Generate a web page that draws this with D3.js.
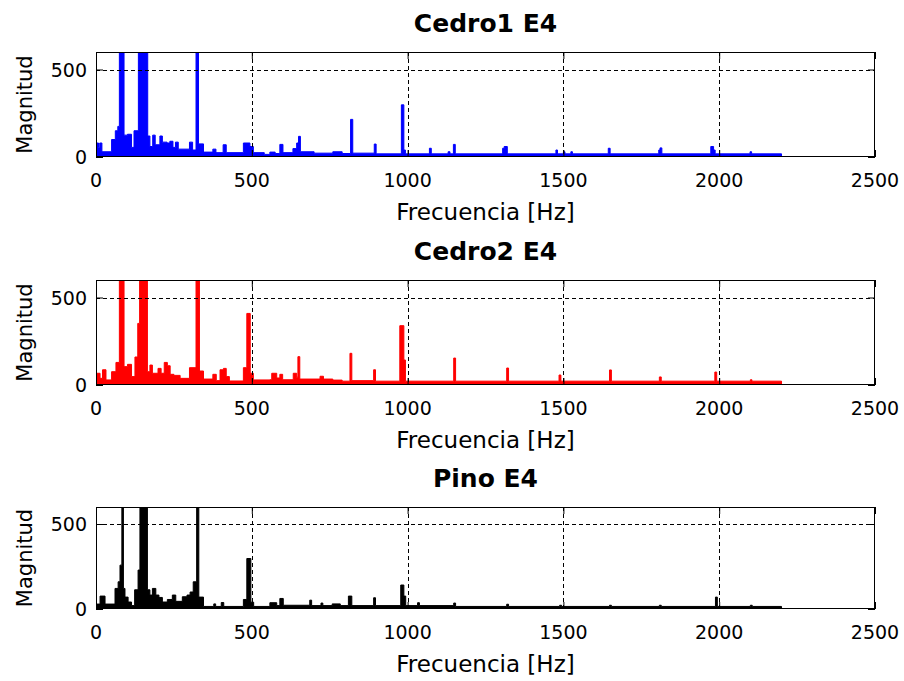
<!DOCTYPE html>
<html>
<head>
<meta charset="utf-8">
<script src="https://cdn.jsdelivr.net/npm/d3@7"></script>
<style>
	body { margin: 0; background: #fff; }
	svg { display: block; }
	text { font-family: "DejaVu Sans", sans-serif; fill: #000; }
</style>
</head>
<body>
<svg id="chart"></svg>
<script>
// data =====================================================================
var xTicks = [0, 500, 1000, 1500, 2000, 2500];
var yTicks = [0, 500];
var titles = ["Cedro1 E4", "Cedro2 E4", "Pino E4"];
var colors = ["#0000ff", "#ff0000", "#000000"];

// [frecuencia Hz, magnitud] (escalones)
var cedro1 = [
	[0,80],[8,55],[12,80],[19,30],[50,100],[62,150],[70,175],[75,1500],[90,125],[101,130],
	[114,55],[122,150],[136,1500],[166,120],[173,60],[182,125],[190,70],[205,120],[213,85],
	[228,80],[237,90],[247,55],[255,85],[264,45],[300,85],[310,40],[321,1500],[329,75],
	[345,28],[375,45],[385,25],[408,70],[418,25],[473,80],[494,60],[505,25],[540,15],
	[558,28],[575,20],[590,72],[600,25],[632,48],[644,80],[650,118],[656,30],[700,22],
	[760,30],[790,20],[817,215],[824,22],[893,74],[899,18],[980,298],[988,40],[993,18],
	[1070,50],[1076,18],[1130,30],[1136,18],[1147,72],[1153,18],[1305,50],[1310,60],
	[1320,18],[1476,40],[1481,18],[1500,30],[1505,18],[1524,30],[1529,18],[1644,50],
	[1650,18],[1806,40],[1810,52],[1816,18],[1973,60],[1982,40],[1987,18],[2099,30],
	[2104,18],[2200,0]
];

var cedro2 = [
	[0,67],[13,38],[21,87],[32,29],[50,76],[64,129],[75,1500],[90,105],[101,118],[114,48],
	[125,160],[134,352],[140,1500],[165,76],[173,114],[181,67],[199,95],[209,67],[219,129],
	[229,110],[238,61],[250,55],[270,38],[300,99],[321,1500],[332,80],[345,34],[375,61],
	[386,25],[398,87],[409,95],[418,48],[428,23],[473,99],[484,409],[495,67],[505,29],
	[558,30],[564,67],[580,40],[590,61],[599,30],[633,67],[644,45],[648,162],[654,34],
	[719,50],[730,34],[760,28],[790,22],[815,181],[821,25],[891,87],[897,22],[975,339],
	[988,143],[993,22],[1148,154],[1154,22],[1318,97],[1324,22],[1486,57],[1492,22],
	[1648,86],[1654,22],[1808,46],[1814,22],[1986,74],[1992,22],[2100,30],[2105,22],
	[2200,0]
];

var pino = [
	[0,29],[13,76],[29,29],[61,121],[71,160],[77,258],[83,1500],[88,121],[93,70],[103,41],
	[114,20],[124,113],[135,229],[141,1500],[165,113],[173,82],[181,121],[192,82],[202,68],
	[213,41],[229,56],[245,82],[256,45],[277,72],[292,82],[302,100],[312,160],[323,1500],
	[330,70],[345,15],[378,30],[384,15],[402,38],[410,15],[473,56],[484,297],[497,40],
	[506,15],[558,37],[580,20],[590,62],[601,22],[686,52],[692,20],[722,35],[728,20],
	[758,30],[784,20],[810,76],[821,20],[891,66],[897,20],[978,141],[988,76],[994,20],
	[1032,37],[1038,20],[1148,35],[1154,15],[1318,28],[1324,15],[1488,22],[1494,15],
	[1648,22],[1654,15],[1808,22],[1814,15],[1988,70],[1994,15],[2100,22],[2106,15],
	[2200,0]
];

var series = [cedro1, cedro2, pino];

// layout ===================================================================
var width = 904, height = 681;
var left = 96, right = 875;
var panels = [
	{ top: 52,  bottom: 157 },
	{ top: 280, bottom: 385 },
	{ top: 507, bottom: 609 }
];
var tickLen = 7;

var svg = d3.select("#chart")
	.attr("width", width)
	.attr("height", height);

var xScale = d3.scaleLinear()
	.domain([0, 2500])
	.range([left, right]);

panels.forEach(function(p, i) {
	drawPanel(p, i);
});

function drawPanel(p, i) {
	var yScale = d3.scaleLinear()
		.domain([0, 600])
		.range([p.bottom, p.top]);

	var g = svg.append("g");

	g.append("clipPath")
		.attr("id", "clip" + i)
		.append("rect")
		.attr("x", left)
		.attr("y", p.top)
		.attr("width", right - left)
		.attr("height", p.bottom - p.top);

	var area = d3.area()
		.x(function(d) { return xScale(d[0]) })
		.y0(yScale(0))
		.y1(function(d) { return yScale(d[1]) })
		.curve(d3.curveStepAfter);

	g.append("path")
		.datum(series[i])
		.attr("clip-path", "url(#clip" + i + ")")
		.attr("d", area)
		.attr("fill", colors[i])
		.attr("stroke", colors[i])
		.attr("stroke-width", 1);

	// grid
	g.selectAll(".vgrid")
		.data(xTicks.slice(1, -1))
		.enter().append("line")
		.attr("x1", function(d) { return Math.round(xScale(d)) + 0.5 })
		.attr("x2", function(d) { return Math.round(xScale(d)) + 0.5 })
		.attr("y1", p.top)
		.attr("y2", p.bottom)
		.attr("stroke", "#000")
		.attr("stroke-dasharray", "4,3");

	g.selectAll(".hgrid")
		.data(yTicks.slice(1))
		.enter().append("line")
		.attr("x1", left)
		.attr("x2", right)
		.attr("y1", function(d) { return Math.round(yScale(d)) + 0.5 })
		.attr("y2", function(d) { return Math.round(yScale(d)) + 0.5 })
		.attr("stroke", "#000")
		.attr("stroke-dasharray", "4,3");

	// axes, ticks pointing in
	var xBottom = d3.axisTop(xScale).tickValues(xTicks).tickSize(tickLen).tickFormat("");
	var xTop = d3.axisBottom(xScale).tickValues(xTicks).tickSize(tickLen).tickFormat("");
	var yLeft = d3.axisRight(yScale).tickValues(yTicks).tickSize(tickLen).tickFormat("");
	var yRight = d3.axisLeft(yScale).tickValues(yTicks).tickSize(tickLen).tickFormat("");

	[[xBottom, "translate(0," + p.bottom + ")"],
	 [xTop, "translate(0," + p.top + ")"],
	 [yLeft, "translate(" + left + ",0)"],
	 [yRight, "translate(" + right + ",0)"]].forEach(function(a) {
		var ag = g.append("g").attr("transform", a[1]).call(a[0]);
		ag.select(".domain").remove();
		ag.selectAll("line").attr("stroke", "#000");
	});

	g.append("rect")
		.attr("x", left + 0.5)
		.attr("y", p.top + 0.5)
		.attr("width", right - left - 1)
		.attr("height", p.bottom - p.top - 1)
		.attr("fill", "none")
		.attr("stroke", "#000");

	// labels
	g.selectAll(".xlab")
		.data(xTicks)
		.enter().append("text")
		.attr("x", function(d) { return xScale(d) })
		.attr("y", p.bottom + 30)
		.attr("text-anchor", "middle")
		.attr("font-size", 19)
		.text(function(d) { return d });

	g.selectAll(".ylab")
		.data(yTicks)
		.enter().append("text")
		.attr("x", left - 9)
		.attr("y", function(d) { return yScale(d) + 7 })
		.attr("text-anchor", "end")
		.attr("font-size", 19)
		.text(function(d) { return d });

	g.append("text")
		.attr("x", (left + right) / 2)
		.attr("y", p.bottom + 63)
		.attr("text-anchor", "middle")
		.attr("font-size", 23)
		.text("Frecuencia [Hz]");

	g.append("text")
		.attr("transform", "translate(32," + (p.top + p.bottom) / 2 + ") rotate(-90)")
		.attr("text-anchor", "middle")
		.attr("font-size", 21)
		.text("Magnitud");

	g.append("text")
		.attr("x", (left + right) / 2)
		.attr("y", p.top - 20)
		.attr("text-anchor", "middle")
		.attr("font-size", 25)
		.attr("font-weight", "bold")
		.text(titles[i]);
}
</script>
</body>
</html>
